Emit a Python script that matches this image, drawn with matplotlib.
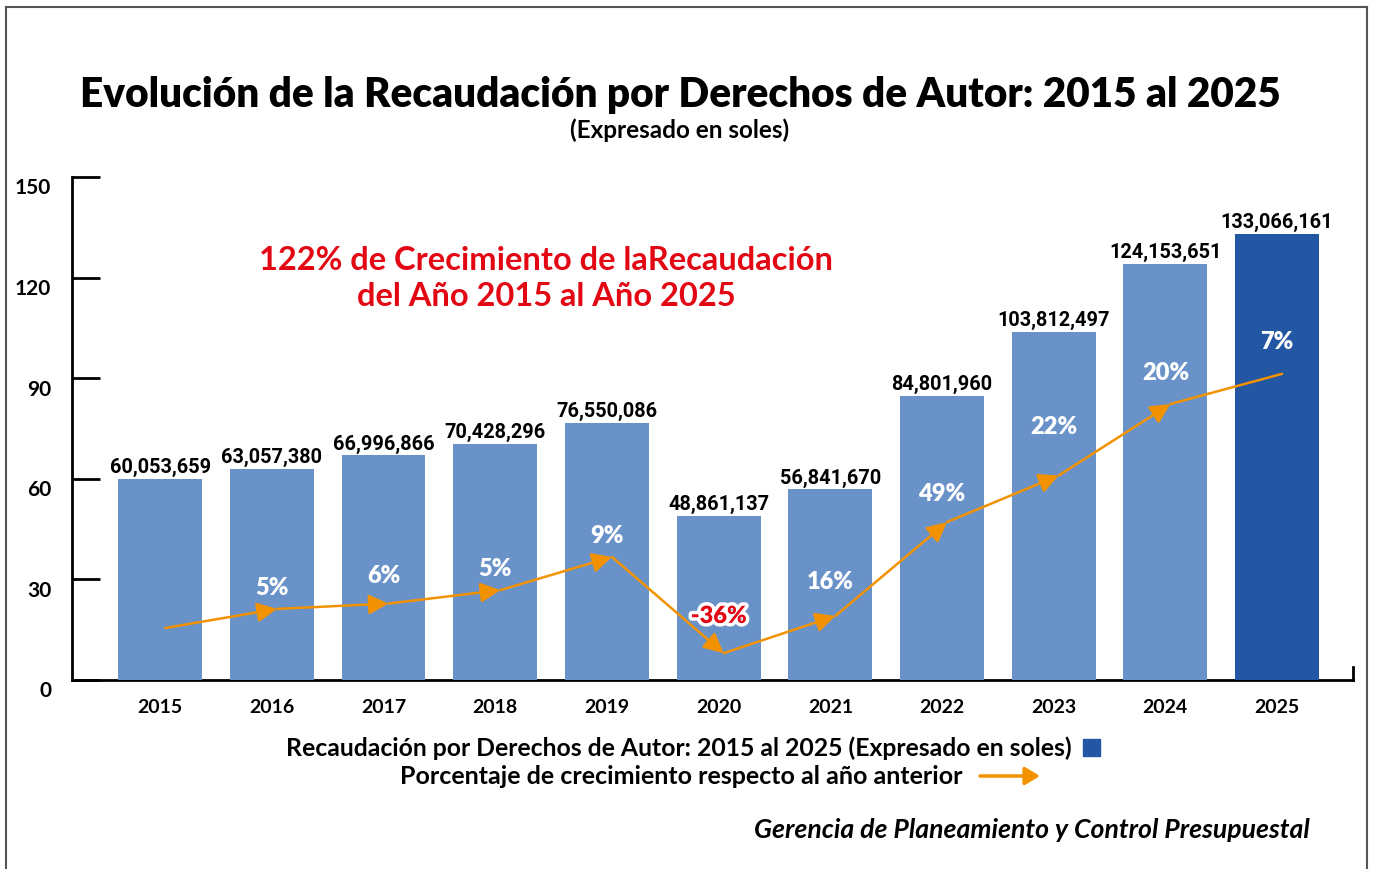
import matplotlib
matplotlib.use("Agg")
import matplotlib.pyplot as plt
import matplotlib.patheffects as pe
from matplotlib.lines import Line2D
from matplotlib.patches import Rectangle, FancyArrowPatch
import matplotlib.transforms as mtransforms

# ---------------- data ----------------
years = ["2015", "2016", "2017", "2018", "2019", "2020", "2021", "2022", "2023", "2024", "2025"]
recaudacion = [60053659, 63057380, 66996866, 70428296, 76550086, 48861137,
               56841670, 84801960, 103812497, 124153651, 133066161]
growth_pct = [None, 5, 6, 5, 9, -36, 16, 49, 22, 20, 7]
# level (in axis units, millions) of the decorative growth line as drawn in the chart
growth_line_level = [15.5, 21.2, 22.8, 26.8, 36.7, 8.0, 19.1, 47.1, 61.0, 82.3, 91.3]
y_ticks = [0, 30, 60, 90, 120, 150]

# layout helpers (label placement, not data)
pct_label_y = [None, 27.7, 31.3, 33.4, 43.2, 19.1, 29.5, 55.8, 75.8, 91.9, 101.1]
LINE_DX = 0.045

# ---------------- style ----------------
C_BAR = "#6992c8"
C_BAR_LAST = "#2356a3"
C_ORANGE = "#f39200"
C_RED = "#e30613"
F_MAIN = ["Lato", "DejaVu Sans"]
F_NUM = ["Liberation Sans Narrow", "Roboto", "DejaVu Sans"]

plt.rcParams["font.family"] = F_MAIN

fig = plt.figure(figsize=(13.75, 8.7), dpi=100)
W, H = 1375, 870
ax = fig.add_axes([72 / W, 1 - 681 / H, (1353 - 72) / W, (681 - 178) / H])

x = list(range(len(years)))
vals_m = [v / 1e6 for v in recaudacion]
colors = [C_BAR] * (len(years) - 1) + [C_BAR_LAST]
ax.bar(x, vals_m, width=0.75, color=colors, zorder=2)

ax.set_xlim(-0.79, 10.68)
ax.set_ylim(0, 150)

# spines
for s in ["top", "right"]:
    ax.spines[s].set_visible(False)
ax.spines["left"].set_linewidth(2)
ax.spines["bottom"].set_linewidth(2)
ax.spines["bottom"].set_zorder(1)
ax.plot([10.68, 10.68], [0, 3.9], color="black", lw=2, clip_on=False, zorder=3)

ax.set_yticks(y_ticks)
ax.set_yticklabels([str(t) for t in y_ticks], fontsize=15, fontweight="bold")
ax.tick_params(axis="y", direction="in", length=20, width=2, pad=15)
off = mtransforms.ScaledTranslation(0, -0.085, fig.dpi_scale_trans)
for lab in ax.get_yticklabels():
    lab.set_transform(lab.get_transform() + off)

ax.set_xticks(x)
ax.set_xticklabels(years, fontsize=14, fontweight="bold")
ax.tick_params(axis="x", length=0, pad=13)

# value labels
for xi, v, vm in zip(x, recaudacion, vals_m):
    ax.annotate(f"{v:,}", xy=(xi, vm), xytext=(0, 5), textcoords="offset points",
                ha="center", va="baseline", fontsize=14.3, fontweight="bold",
                family=F_NUM, color="black", zorder=5)

# growth line with arrows
lx = [xi + LINE_DX for xi in x]
for i in range(len(x) - 1):
    style = "-|>,head_length=0.6,head_width=0.3" if i < len(x) - 2 else "-"
    arr = FancyArrowPatch((lx[i], growth_line_level[i]), (lx[i + 1], growth_line_level[i + 1]),
                          arrowstyle=style, mutation_scale=20, color=C_ORANGE,
                          lw=1.8, shrinkA=0, shrinkB=0, zorder=4)
    ax.add_patch(arr)

# percentage labels
for xi, p, ly in zip(x, growth_pct, pct_label_y):
    if p is None:
        continue
    if p < 0:
        ax.text(xi, ly, f"{p}%", ha="center", va="center", fontsize=17,
                fontweight="heavy", color=C_RED, zorder=6,
                path_effects=[pe.withStroke(linewidth=5, foreground="white")])
    else:
        ax.text(xi, ly, f"{p}%", ha="center", va="center", fontsize=17,
                fontweight="heavy", color="white", zorder=6)

# titles
fig.text(680 / W, 1 - 95 / H, "Evolución de la Recaudación por Derechos de Autor: 2015 al 2025",
         ha="center", va="center", fontsize=29.2, fontweight="heavy")
fig.text(680 / W, 1 - 130 / H, "(Expresado en soles)", ha="center", va="center",
         fontsize=17.5, fontweight="bold")

# red annotation
fig.text(546 / W, 1 - 260 / H, "122% de Crecimiento de laRecaudación", ha="center",
         va="center", fontsize=23.5, fontweight="bold", color=C_RED)
fig.text(546 / W, 1 - 297 / H, "del Año 2015 al Año 2025", ha="center",
         va="center", fontsize=23.5, fontweight="bold", color=C_RED)

# custom legend
fig.text(1072 / W, 1 - 748 / H,
         "Recaudación por Derechos de Autor: 2015 al 2025 (Expresado en soles)",
         ha="right", va="center", fontsize=17.8, fontweight="bold")
fig.patches.append(Rectangle((1083 / W, 1 - 757 / H), 17 / W, 17 / H,
                             transform=fig.transFigure, color=C_BAR_LAST))
fig.text(962 / W, 1 - 776 / H, "Porcentaje de crecimiento respecto al año anterior",
         ha="right", va="center", fontsize=18, fontweight="bold")
fig.patches.append(FancyArrowPatch((980 / W, 1 - 777 / H), (1040 / W, 1 - 777 / H),
                                   transform=fig.transFigure,
                                   arrowstyle="-|>,head_length=0.5,head_width=0.3",
                                   mutation_scale=18, color=C_ORANGE, lw=2.5,
                                   shrinkA=0, shrinkB=0))

# footer
fig.text(1310 / W, 1 - 830 / H, "Gerencia de Planeamiento y Control Presupuestal",
         ha="right", va="center", fontsize=19.2, fontweight="bold", style="italic")

# border
bc = "#555555"
fig.add_artist(Line2D([6 / W, 6 / W], [0, 1 - 8 / H], color=bc, lw=1.5, transform=fig.transFigure))
fig.add_artist(Line2D([6 / W, 1367 / W], [1 - 8 / H, 1 - 8 / H], color=bc, lw=1.5, transform=fig.transFigure))
fig.add_artist(Line2D([1367 / W, 1367 / W], [0, 1 - 8 / H], color=bc, lw=1.5, transform=fig.transFigure))

fig.savefig("out.png", dpi=100)
